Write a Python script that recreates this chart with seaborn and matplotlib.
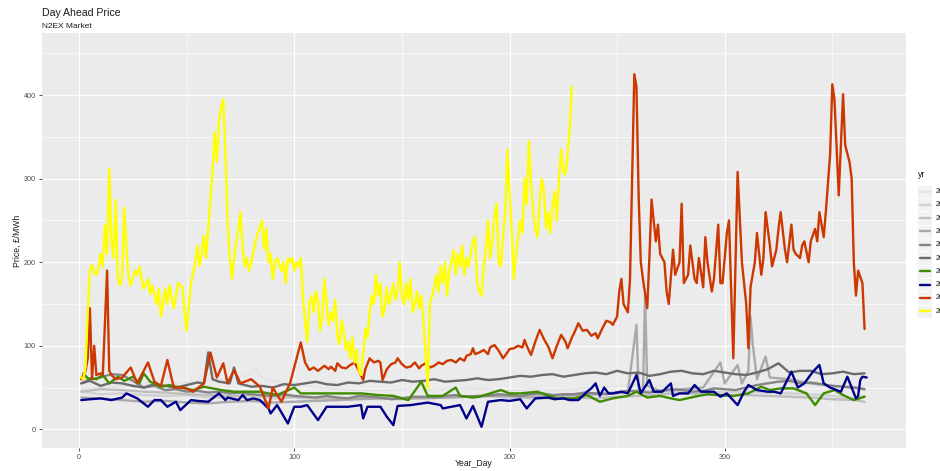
import matplotlib
matplotlib.use("Agg")
import matplotlib.pyplot as plt
from matplotlib.patches import Rectangle
from matplotlib.lines import Line2D
import seaborn as sns
import pandas as pd

# ---------------- data ----------------
years = ["2013", "2014", "2015", "2016", "2017", "2018", "2019", "2020", "2021", "2022"]
colors = ["#E6E6E6", "#D1D1D1", "#BEBEBE", "#A9A9A9", "#858585", "#6B6B6B",
          "#3F8C00", "#00008B", "#CD3700", "#FFFF00"]

days_2013 = [1, 10, 20, 30, 40, 50, 60, 70, 80, 82, 85, 90, 100, 110, 120, 130, 140, 150, 160, 170,
             180, 190, 200, 210, 220, 230, 240, 250, 260, 270, 280, 290, 300, 310, 320, 330, 340, 350, 360, 365]
price_2013 = [48, 50, 52, 55, 54, 56, 58, 60, 66, 72, 62, 58, 56, 50, 48, 47, 46, 48, 47, 48,
              49, 48, 46, 48, 47, 48, 50, 52, 53, 52, 54, 55, 54, 56, 57, 55, 54, 52, 50, 48]

days_2014 = [1, 10, 20, 30, 40, 50, 60, 70, 80, 90, 100, 110, 120, 130, 140, 150, 160, 170, 180, 190,
             200, 210, 220, 230, 240, 250, 260, 270, 280, 290, 300, 310, 320, 330, 340, 350, 360, 365]
price_2014 = [45, 42, 43, 41, 40, 41, 38, 38, 40, 37, 38, 36, 35, 37, 36, 38, 37, 38, 39, 40,
              38, 37, 39, 40, 42, 45, 47, 46, 44, 45, 44, 45, 44, 43, 42, 40, 37, 40]

days_2015 = [1, 10, 20, 30, 40, 50, 60, 70, 80, 90, 100, 110, 120, 130, 140, 150, 160, 170, 180, 190,
             200, 210, 220, 230, 240, 250, 260, 270, 280, 290, 300, 310, 320, 330, 340, 350, 360, 365]
price_2015 = [45, 48, 47, 45, 44, 42, 41, 40, 41, 40, 39, 38, 37, 38, 37, 36, 37, 38, 39, 40,
              39, 38, 37, 38, 37, 39, 40, 42, 43, 42, 40, 41, 40, 39, 38, 36, 35, 33]

days_2016 = [1, 10, 20, 30, 40, 50, 60, 70, 80, 90, 100, 110, 120, 130, 140, 150, 160, 170, 180, 190,
             200, 210, 220, 230, 240, 250, 255, 259, 260, 262, 263, 264, 270, 280, 290, 298, 300, 306,
             308, 311, 312, 313, 315, 319, 321, 330, 340, 350, 360, 365]
price_2016 = [38, 37, 35, 33, 34, 32, 31, 33, 34, 32, 33, 34, 35, 36, 37, 37, 38, 38, 39, 40,
              40, 39, 40, 41, 42, 43, 45, 125, 48, 45, 160, 52, 46, 48, 50, 80, 55, 77,
              55, 70, 135, 103, 60, 87, 62, 60, 55, 52, 50, 48]

days_2017 = [1, 5, 10, 15, 20, 25, 30, 35, 40, 45, 50, 55, 60, 65, 70, 75, 80, 85, 90, 95,
             100, 105, 110, 115, 120, 125, 130, 135, 140, 145, 150, 155, 160, 165, 170, 175, 180, 185,
             190, 195, 200, 205, 210, 215, 220, 225, 230, 235, 240, 245, 250, 255, 260, 265, 270, 275,
             280, 285, 290, 295, 300, 305, 310, 315, 320, 325, 330, 335, 340, 345, 350, 355, 360, 365]
price_2017 = [55, 60, 62, 66, 65, 58, 50, 52, 47, 48, 45, 46, 44, 45, 43, 44, 42, 41, 40, 42,
              40, 39, 38, 40, 38, 37, 40, 39, 38, 36, 37, 39, 39, 38, 40, 41, 39, 40,
              40, 42, 41, 40, 42, 43, 41, 42, 42, 44, 43, 42, 44, 46, 45, 44, 46, 48,
              47, 45, 46, 49, 48, 47, 50, 53, 55, 57, 58, 55, 56, 54, 52, 51, 50, 48]

days_2018 = [1, 5, 10, 15, 20, 25, 30, 35, 40, 45, 50, 55, 58, 60, 62, 65, 70, 72, 74, 77,
             80, 85, 90, 95, 100, 105, 110, 115, 120, 125, 130, 135, 140, 145, 150, 155, 160, 165,
             170, 175, 180, 185, 190, 195, 200, 205, 210, 215, 220, 225, 230, 235, 240, 245, 250, 255,
             260, 265, 270, 275, 280, 285, 290, 295, 300, 305, 310, 315, 320, 325, 330, 335, 340, 345,
             350, 355, 360, 365]
price_2018 = [55, 58, 52, 56, 55, 52, 50, 54, 52, 50, 53, 56, 55, 92, 60, 57, 55, 74, 55, 53,
              51, 52, 50, 54, 53, 55, 57, 54, 53, 56, 55, 58, 57, 56, 59, 57, 58, 60,
              57, 58, 59, 61, 59, 60, 62, 64, 63, 65, 66, 63, 65, 67, 68, 66, 70, 67,
              68, 64, 66, 69, 70, 67, 66, 70, 68, 66, 65, 68, 72, 79, 68, 70, 70, 66,
              67, 69, 66, 67]

days_2019 = [2, 4, 8, 11, 14, 18, 21, 25, 28, 30, 33, 38, 42, 47, 53, 58, 66, 72, 78, 84,
             92, 100, 103, 109, 115, 123, 131, 139, 146, 153, 159, 162, 169, 175, 177, 183, 186, 196,
             200, 205, 213, 222, 230, 236, 242, 248, 255, 259, 264, 270, 275, 279, 286, 292, 298, 304,
             311, 317, 321, 326, 332, 338, 342, 346, 351, 355, 360, 365]
price_2019 = [67, 61, 60, 65, 55, 63, 58, 63, 55, 67, 57, 51, 53, 50, 47, 51, 47, 45, 45, 45,
              41, 50, 43, 43, 43, 43, 43, 41, 40, 35, 57, 40, 40, 50, 40, 38, 39, 47,
              43, 43, 45, 37, 37, 41, 33, 37, 40, 45, 38, 40, 37, 35, 39, 42, 41, 40,
              43, 51, 47, 49, 49, 43, 29, 43, 47, 41, 35, 39]

days_2020 = [1, 5, 10, 15, 20, 22, 27, 32, 35, 38, 41, 45, 47, 52, 55, 60, 65, 68, 69, 74,
             76, 78, 81, 84, 88, 89, 92, 97, 100, 103, 106, 111, 115, 121, 125, 131, 132, 134, 140, 143,
             146, 148, 154, 162, 168, 169, 177, 180, 183, 187, 190, 196, 200, 205, 208, 212, 218, 221,
             225, 228, 232, 236, 238, 240, 242, 244, 246, 248, 252, 255, 259, 261, 265, 267, 271, 275,
             276, 279, 283, 286, 289, 293, 295, 298, 301, 306, 309, 311, 315, 320, 323, 326, 331, 334,
             337, 341, 344, 346, 349, 352, 354, 357, 359, 361, 362, 363, 364, 366]
price_2020 = [35, 36, 37, 35, 38, 43, 37, 27, 35, 35, 27, 33, 23, 35, 34, 33, 43, 35, 38, 35,
              41, 35, 37, 35, 25, 19, 29, 7, 27, 27, 29, 11, 27, 27, 27, 29, 13, 27, 27, 15,
              5, 28, 29, 32, 29, 25, 29, 13, 28, 3, 33, 35, 34, 36, 25, 37, 38, 36,
              37, 35, 35, 45, 49, 55, 40, 50, 43, 43, 45, 43, 65, 43, 59, 45, 45, 55,
              40, 43, 43, 53, 45, 45, 45, 39, 43, 29, 45, 53, 47, 45, 45, 43, 69, 50,
              55, 69, 77, 55, 50, 47, 45, 63, 50, 37, 40, 59, 63, 62]

days_2021 = [1, 3, 4, 5, 6, 7, 8, 10, 11, 13, 14, 15, 17, 20, 24, 27, 32, 35, 38, 41,
             44, 49, 53, 58, 61, 64, 67, 69, 72, 75, 80, 84, 88, 90, 94, 98,
             103, 105, 107, 109, 111, 112, 114, 116, 117, 119, 120, 122, 124, 126, 128, 130, 132, 133,
             135, 137, 139, 140, 141, 143, 145, 147, 148, 150, 152, 154, 156, 158, 159, 161, 163, 165,
             167, 169, 171, 173, 175, 177, 179, 180, 182, 183, 184, 186, 188, 190, 191, 193, 195, 197,
             199, 200, 202, 204, 206, 207, 208, 210, 212, 214, 216, 218, 220, 222, 224, 226, 227, 229,
             230, 232, 234, 236, 238, 240, 241, 243, 245, 247, 248, 250,
             251, 252, 253, 255, 256,
             258, 259, 260, 261, 262, 264, 265, 266, 268, 269, 270, 272, 273, 274, 276, 277, 279, 280,
             281, 283, 284, 286, 287, 288, 290, 291, 292, 294, 295, 297, 298, 299, 301, 302, 304, 306,
             308, 310, 311, 312, 314, 315, 317, 318, 319, 321, 322, 324, 325, 326, 328, 329, 331, 332,
             333, 335, 336, 337, 339, 340, 342, 343, 344, 346, 347, 349, 350, 351, 353, 354, 355, 356,
             358, 359, 360, 361, 362, 364, 365]
price_2021 = [60, 70, 85, 145, 60, 100, 65, 67, 65, 190, 70, 65, 60, 62, 74, 55, 80, 57, 52, 83,
              50, 50, 45, 55, 92, 62, 79, 55, 71, 55, 60, 51, 25, 50, 33, 55,
              104, 80, 71, 74, 70, 72, 76, 72, 75, 70, 79, 74, 73, 77, 80, 70, 59, 72,
              85, 80, 82, 80, 59, 72, 78, 80, 85, 78, 74, 75, 80, 73, 76, 79, 74, 76,
              80, 78, 82, 83, 80, 85, 82, 88, 90, 97, 90, 92, 95, 90, 98, 101, 94, 85,
              92, 96, 97, 100, 98, 107, 100, 89, 105, 119, 108, 99, 85, 100, 113, 105, 97, 110,
              115, 127, 118, 119, 112, 115, 109, 120, 130, 128, 125, 135,
              165, 180, 150, 140, 180,
              425, 410, 280, 200, 180, 145, 205, 275, 225, 245, 210, 200, 165, 150, 215, 185, 200, 270,
              175, 185, 220, 180, 175, 205, 170, 230, 200, 165, 180, 245, 175, 175, 235, 250, 85, 308,
              200, 150, 97, 170, 200, 235, 185, 205, 260, 220, 195, 215, 240, 260, 215, 200, 245, 215,
              210, 205, 220, 225, 200, 225, 240, 225, 260, 230, 260, 330, 413, 395, 280, 340, 401, 340,
              320, 300, 200, 160, 190, 175, 120]

days_2022 = [1, 2, 3, 4, 5, 6, 7, 8, 9, 10, 11, 12, 13, 14, 15, 16, 17, 18, 19, 20,
             21, 22, 23, 24, 26, 27, 28, 30, 32, 33, 34, 36, 37, 38, 40, 41, 42, 44, 45, 46,
             48, 49, 50, 51, 52, 54, 55, 56, 57, 58, 59, 60, 61, 62, 63, 64, 65, 66, 67, 68,
             69, 70, 71, 72, 73, 74, 75, 76, 77, 78, 79, 80, 82, 83, 85, 86, 87, 88, 89, 90,
             91, 92, 94, 95, 96, 97, 98, 99, 100, 101, 102, 103, 104, 105, 106, 107, 108, 109, 110, 111,
             112, 113, 114, 115, 116, 117, 118, 119, 120, 121, 122, 123, 124, 125, 126, 127, 128, 129, 130, 131,
             132, 133, 134, 135, 136, 137, 138, 139, 140, 141, 142, 143, 144, 145, 146, 147, 148, 149, 150, 151,
             152, 153, 154, 155, 156, 157, 158, 159, 160, 161, 162, 163, 164, 165, 166, 167, 168, 169, 170, 171,
             172, 173, 174, 175, 176, 177, 178, 179, 180, 181, 182, 183, 184, 185, 186, 187, 188, 189, 190, 191,
             192, 193, 194, 195, 196, 197, 198, 199, 200, 201, 202, 203, 204, 205, 206, 207, 208, 209, 210, 211,
             212, 213, 214, 215, 216, 217, 218, 219, 220, 221, 222, 223, 224, 225, 226, 227, 228, 229]
price_2022 = [62, 60, 75, 140, 190, 197, 188, 185, 192, 210, 195, 245, 210, 312, 230, 205, 275, 180, 172, 185,
              265, 215, 182, 172, 190, 185, 195, 168, 180, 162, 172, 150, 168, 135, 168, 150, 172, 145, 160, 175,
              170, 140, 118, 150, 175, 200, 220, 195, 210, 232, 205, 240, 275, 310, 355, 320, 370, 385, 395, 330,
              250, 205, 180, 205, 225, 240, 260, 215, 195, 205, 190, 200, 225, 235, 250, 215, 240, 200, 210, 180,
              200, 205, 190, 200, 175, 205, 200, 205, 190, 200, 195, 205, 160, 130, 105, 150, 160, 140, 165, 155,
              118, 135, 180, 150, 125, 140, 130, 155, 112, 102, 130, 118, 95, 105, 85, 110, 80, 95, 70, 65,
              90, 120, 110, 140, 160, 150, 185, 160, 175, 135, 145, 170, 150, 160, 175, 155, 165, 200, 160, 150,
              175, 155, 180, 140, 150, 165, 145, 160, 130, 90, 49, 150, 160, 170, 185, 165, 195, 175, 200, 160,
              190, 200, 215, 185, 210, 195, 220, 185, 205, 195, 210, 225, 230, 175, 165, 160, 195, 215, 250, 205,
              225, 255, 270, 200, 195, 230, 260, 335, 285, 240, 180, 210, 230, 250, 235, 300, 270, 345, 295, 260,
              240, 230, 270, 300, 285, 240, 260, 235, 270, 285, 250, 300, 335, 310, 305, 330, 360, 410]

all_days = [days_2013, days_2014, days_2015, days_2016, days_2017, days_2018,
            days_2019, days_2020, days_2021, days_2022]
all_prices = [price_2013, price_2014, price_2015, price_2016, price_2017, price_2018,
              price_2019, price_2020, price_2021, price_2022]

frames = [pd.DataFrame({"Year_Day": d, "Price": p, "yr": y})
          for y, d, p in zip(years, all_days, all_prices)]
df = pd.concat(frames, ignore_index=True)

# ---------------- plotting ----------------
sns.set_theme(style="darkgrid")
plt.rcParams["font.family"] = ["Liberation Sans", "DejaVu Sans"]

W, H = 940, 471
fig = plt.figure(figsize=(W / 100, H / 100), dpi=100)
L, R, T, B = 42, 906, 33.3, 447.7
ax = fig.add_axes([L / W, 1 - B / H, (R - L) / W, (B - T) / H])
ax.set_facecolor("#EBEBEB")

palette = dict(zip(years, colors))
sns.lineplot(data=df, x="Year_Day", y="Price", hue="yr", hue_order=years,
             palette=palette, estimator=None, linewidth=1.7, legend=False, ax=ax)

ax.set_xlim(-17.25, 384.25)
ax.set_ylim(-22, 474)
ax.set_xticks([0, 100, 200, 300])
ax.set_xticks([50, 150, 250, 350], minor=True)
ax.set_yticks([0, 100, 200, 300, 400])
ax.set_yticks([50, 150, 250, 350, 450], minor=True)
ax.grid(which="major", color="white", linewidth=0.9)
ax.grid(which="minor", color="white", linewidth=0.45)
ax.set_axisbelow(True)
for s in ax.spines.values():
    s.set_visible(False)
ax.tick_params(axis="both", which="major", length=2.5, width=0.6, color="#333333",
               labelsize=5.2, labelcolor="#4D4D4D", pad=2, bottom=True, left=True)
ax.tick_params(axis="both", which="minor", length=0)
ax.set_xlabel("")
ax.set_ylabel("")
fig.text((L + R) / 2 / W, 1 - 463 / H, "Year_Day", fontsize=6.2, color="#1A1A1A",
         ha="center", va="center")
fig.text(17 / W, 1 - (T + B) / 2 / H, "Price, £/MWh", fontsize=6.2, color="#1A1A1A",
         ha="center", va="center", rotation=90)

fig.text(42 / W, 1 - 12.5 / H, "Day Ahead Price", fontsize=7.6, color="#1A1A1A",
         ha="left", va="center")
fig.text(42 / W, 1 - 26 / H, "N2EX Market", fontsize=6, color="#1A1A1A",
         ha="left", va="center")

# legend at the right edge (as in the reference, the labels run past the border)
fig.text(918 / W, 1 - 175 / H, "yr", fontsize=6.2, color="#1A1A1A", ha="left", va="center")
key_h = 13.3
for i, (y, c) in enumerate(zip(years, colors)):
    yc = 191.5 + i * key_h
    fig.patches.append(Rectangle((917 / W, 1 - (yc + key_h / 2) / H), 15 / W, key_h / H,
                                 transform=fig.transFigure, facecolor="#F2F2F2",
                                 edgecolor="white", linewidth=0.6))
    fig.lines.append(Line2D([919.5 / W, 929.5 / W], [1 - yc / H, 1 - yc / H],
                            transform=fig.transFigure, color=c, linewidth=1.7))
    fig.text(936 / W, 1 - yc / H, y, fontsize=5.2, color="#1A1A1A", ha="left", va="center")

fig.savefig("out.png", dpi=100)
